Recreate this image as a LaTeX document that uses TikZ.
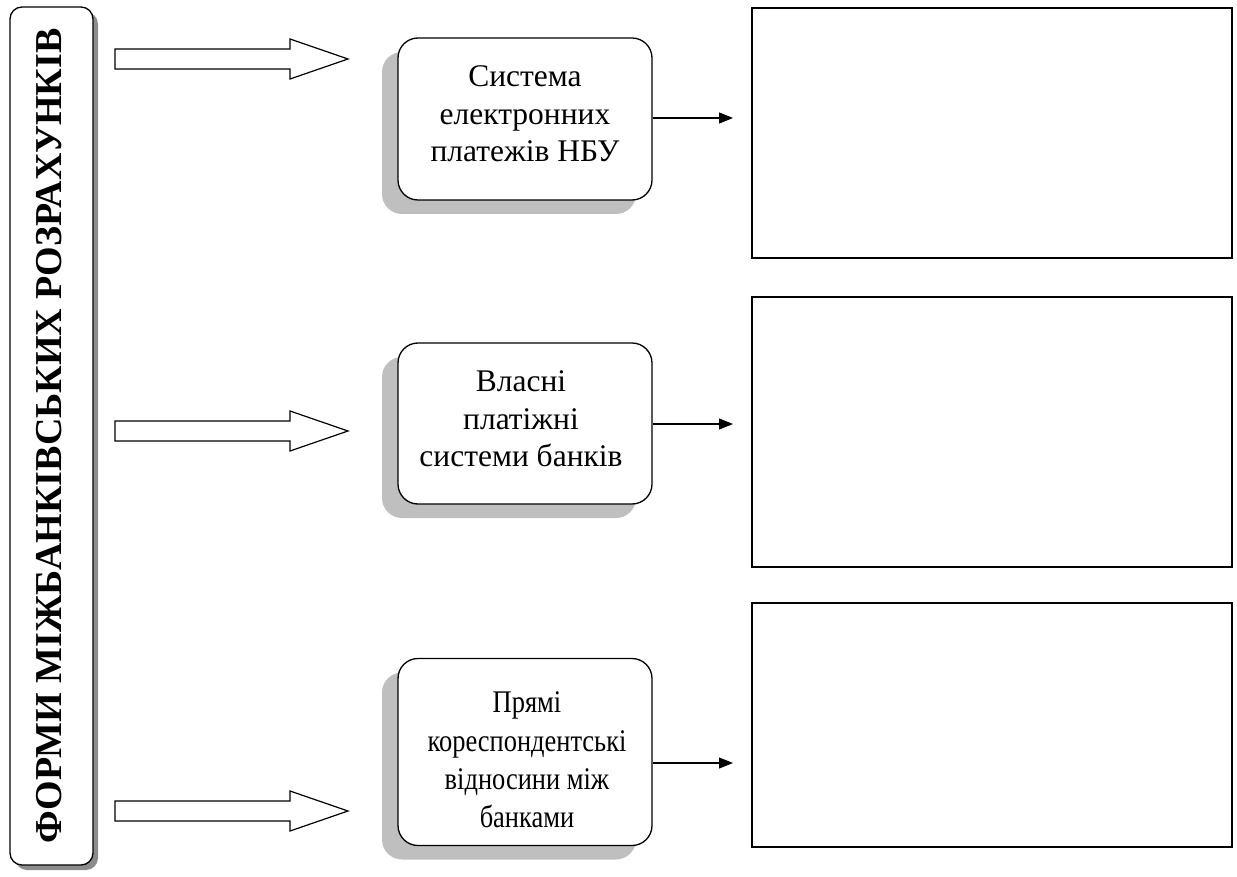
\documentclass[tikz,border=0pt]{standalone}
\usepackage{graphicx}
\usepackage{fontspec}
\setmainfont{Liberation Serif}
\usetikzlibrary{shadows,arrows.meta}
\newcommand{\cnd}[1]{\scalebox{0.84}[1]{#1}}
\begin{document}
\begin{tikzpicture}[x=1pt,y=-1pt,
  sidebox/.style={draw,line width=1.3pt,rounded corners=12pt,fill=white,
    minimum width=83pt,minimum height=858pt,inner sep=0pt,
    drop shadow={shadow xshift=5pt,shadow yshift=-5pt,fill=black!45,opacity=1}},
  formbox/.style={draw,line width=1.3pt,rounded corners=20pt,fill=white,
    minimum width=254pt,inner sep=0pt,
    drop shadow={shadow xshift=-16pt,shadow yshift=-14pt,fill=black!25,opacity=1}},
  formtext/.style={align=center,inner sep=0pt,font=\fontsize{31.5pt}{37.5pt}\selectfont},
  emptybox/.style={draw,line width=1.3pt,minimum width=480pt,inner sep=0pt},
  bigarrow/.style={draw,line width=1.2pt,fill=white,line join=miter},
  smallarrow/.style={line width=1.2pt,-{Triangle[length=14pt,width=11pt]}}
]
\useasboundingbox (0,0) rectangle (1237,877);
% left vertical box
\node[sidebox] (side) at (51.5,436) {};
\node[rotate=90,anchor=base,inner sep=0pt,font=\bfseries\fontsize{38pt}{38pt}\selectfont] (sidetext) at (61,436) {ФОРМИ МІЖБАНКІВСЬКИХ РОЗРАХУНКІВ};
% rounded form boxes
\node[formbox,minimum height=162pt] (b1) at (525,119) {};
\node[formbox,minimum height=161pt] (b2) at (525,423.5) {};
\node[formbox,minimum height=187pt] (b3) at (525,752) {};
\node[formtext] (t1) at (525,114) {Система\\електронних\\платежів НБУ};
\node[formtext] (t2) at (521,419) {Власні\\платіжні\\системи банків};
\node[formtext,font=\fontsize{31.5pt}{38.3pt}\selectfont] (t3) at (527,760) {\cnd{Прямі}\\\cnd{кореспондентські}\\\cnd{відносини між}\\\cnd{банками}};
% empty rectangles
\node[emptybox,minimum height=250pt] (r1) at (992,133) {};
\node[emptybox,minimum height=270pt] (r2) at (992,432) {};
\node[emptybox,minimum height=244pt] (r3) at (992,725) {};
% big hollow arrows
\foreach \y/\n in {59/a1,431/a2,811/a3}{
  \coordinate (\n) at (115,\y);
  \draw[bigarrow] (\n) ++(0,-10) -- ++(175,0) -- ++(0,-10) -- ++(58,20) -- ++(-58,20) -- ++(0,-10) -- ++(-175,0) -- cycle;
}
% small arrows
\coordinate (e1) at (733,118);
\coordinate (e2) at (733,424);
\coordinate (e3) at (733,763);
\draw[smallarrow] (b1.east |- e1) -- (e1);
\draw[smallarrow] (b2.east |- e2) -- (e2);
\draw[smallarrow] (b3.east |- e3) -- (e3);
\end{tikzpicture}
\end{document}
